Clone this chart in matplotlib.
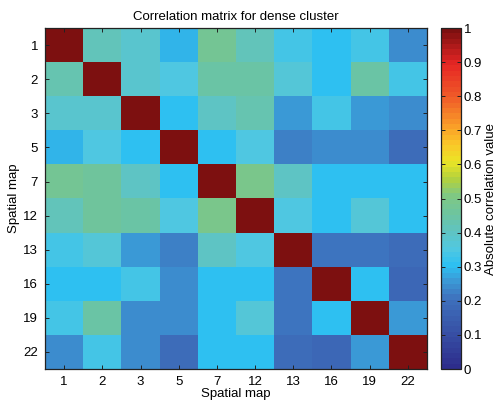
import numpy as np
import matplotlib
matplotlib.use("Agg")
import matplotlib.pyplot as plt
from matplotlib.colors import LinearSegmentedColormap

plt.rcParams['font.family'] = ['Liberation Sans', 'DejaVu Sans']

maps = ["1", "2", "3", "5", "7", "12", "13", "16", "19", "22"]

corr = np.array([
    [1.00, 0.42, 0.38, 0.29, 0.48, 0.42, 0.33, 0.31, 0.33, 0.24],
    [0.43, 1.00, 0.38, 0.35, 0.45, 0.45, 0.36, 0.31, 0.44, 0.33],
    [0.38, 0.38, 1.00, 0.31, 0.40, 0.43, 0.26, 0.33, 0.26, 0.24],
    [0.29, 0.35, 0.31, 1.00, 0.31, 0.35, 0.22, 0.24, 0.24, 0.20],
    [0.48, 0.46, 0.40, 0.31, 1.00, 0.49, 0.40, 0.30, 0.30, 0.30],
    [0.42, 0.46, 0.44, 0.35, 0.49, 1.00, 0.35, 0.30, 0.37, 0.30],
    [0.33, 0.36, 0.26, 0.22, 0.40, 0.35, 1.00, 0.21, 0.21, 0.19],
    [0.31, 0.31, 0.33, 0.24, 0.30, 0.30, 0.21, 1.00, 0.31, 0.18],
    [0.33, 0.44, 0.24, 0.24, 0.30, 0.37, 0.21, 0.31, 1.00, 0.26],
    [0.24, 0.33, 0.24, 0.20, 0.30, 0.30, 0.19, 0.18, 0.26, 1.00],
])

# colour scale: deep blue -> cyan -> green -> yellow -> red -> dark red
anchors = [
    (0.00, (45, 45, 140)),
    (0.10, (55, 80, 165)),
    (0.20, (62, 112, 188)),
    (0.25, (60, 150, 212)),
    (0.30, (45, 192, 242)),
    (0.35, (80, 200, 225)),
    (0.40, (95, 196, 195)),
    (0.45, (108, 196, 162)),
    (0.51, (128, 200, 130)),
    (0.56, (180, 210, 60)),
    (0.61, (235, 228, 38)),
    (0.66, (250, 200, 40)),
    (0.71, (250, 162, 40)),
    (0.80, (240, 92, 40)),
    (0.90, (230, 38, 36)),
    (1.00, (125, 16, 16)),
]
cmap = LinearSegmentedColormap.from_list(
    "corr", [(p, tuple(c / 255 for c in rgb)) for p, rgb in anchors], N=64)

fs = 9.5

fig = plt.figure(figsize=(4.98, 4.01), dpi=100)
ax = fig.add_axes([0.0904, 0.0798, 0.767, 0.850])
cax = fig.add_axes([0.8855, 0.0798, 0.0402, 0.850])

im = ax.imshow(corr, cmap=cmap, vmin=0, vmax=1, aspect="auto",
               interpolation="nearest")

n = len(maps)
ax.set_xticks(np.arange(n))
ax.set_yticks(np.arange(n))
ax.set_xticklabels(maps)
ax.set_yticklabels(maps)
ax.tick_params(direction="in", length=3, width=0.7, labelsize=fs,
               top=True, right=True, color="#222222", pad=5)
for s in ax.spines.values():
    s.set_linewidth(0.9)
    s.set_color("#222222")
ax.set_xlabel("Spatial map", fontsize=fs, labelpad=0)
ax.set_ylabel("Spatial map", fontsize=fs, labelpad=2)
ax.set_title("Correlation matrix for dense cluster", fontsize=fs, pad=6)

ticks = np.round(np.arange(0, 1.01, 0.1), 1)
cb = fig.colorbar(im, cax=cax, ticks=ticks)
cb.ax.set_yticklabels([f"{t:g}" for t in ticks])
cb.ax.tick_params(direction="in", length=3, width=0.7, labelsize=fs,
                  left=True, right=True, color="#222222", pad=2)
cb.outline.set_linewidth(0.9)
cb.outline.set_edgecolor("#222222")
cb.set_label("Absolute correlation value", fontsize=fs, labelpad=2)

fig.savefig("out.png", dpi=100)
